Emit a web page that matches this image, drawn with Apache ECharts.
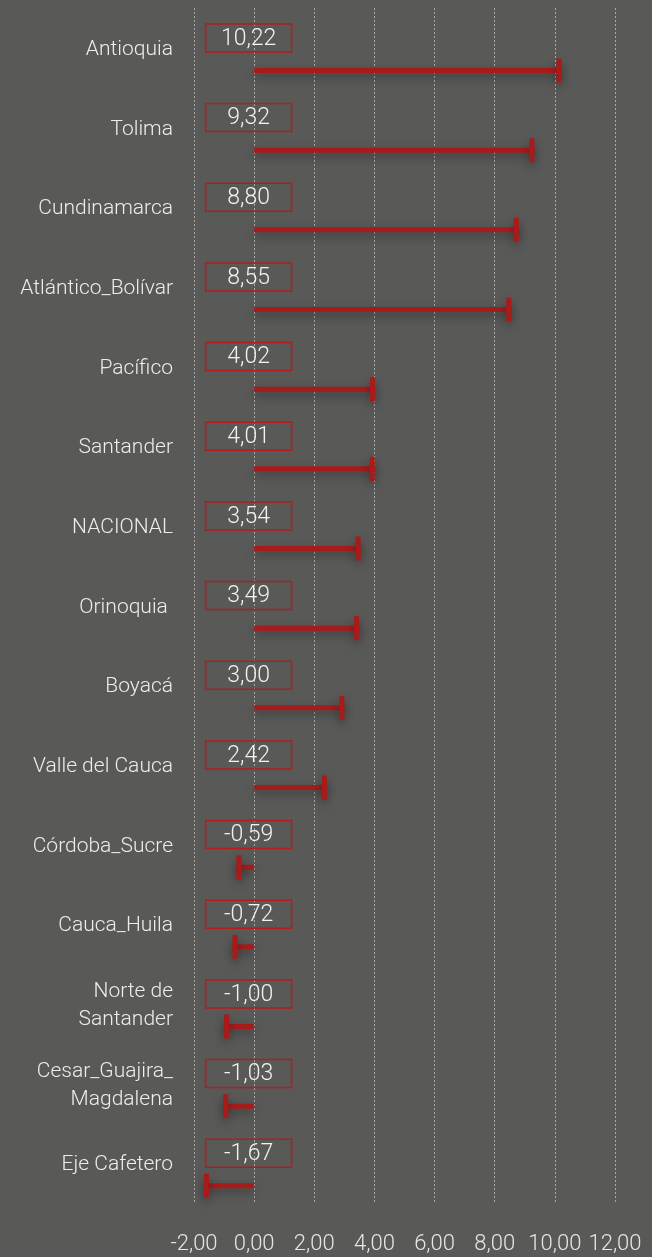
<!DOCTYPE html>
<html><head><meta charset="utf-8">
<script src="https://cdn.jsdelivr.net/npm/echarts@6/dist/echarts.min.js"></script>
<style>html,body{margin:0;padding:0;background:#595958;}#c{width:652px;height:1257px;}</style>
</head><body><div id="c"></div>
<script>
var categories = ["Antioquia","Tolima","Cundinamarca","Atlántico_Bolívar","Pacífico","Santander","NACIONAL","Orinoquia ","Boyacá","Valle del Cauca","Córdoba_Sucre","Cauca_Huila","Norte de\nSantander","Cesar_Guajira_\nMagdalena","Eje Cafetero"];
var values = [10.22,9.32,8.80,8.55,4.02,4.01,3.54,3.49,3.00,2.42,-0.59,-0.72,-1.00,-1.03,-1.67];
var xTicks = {min:-2, max:12, interval:2};

function fmt(v){ return v.toFixed(2).replace('.', ','); }
var RED = '#a81b1b';
function renderItem(params, api){
  var v = api.value(0), ci = api.value(1);
  var p0 = api.coord([0, ci]);
  var p1 = api.coord([v, ci]);
  var band = api.size([0,1])[1];
  var yBar = p0[1] + band*0.285;
  var yBox = p0[1] - band*0.125;
  var x0 = Math.min(p0[0], p1[0]), w = Math.abs(p1[0]-p0[0]);
  var capX = v >= 0 ? p1[0]-5 : p1[0];
  var sh = {shadowBlur:10, shadowColor:'rgba(0,0,0,0.35)', shadowOffsetY:4};
  return {type:'group', children:[
    {type:'rect', shape:{x:x0, y:yBar-2.5, width:w, height:5}, style:Object.assign({fill:RED}, sh)},
    {type:'rect', shape:{x:capX, y:yBar-12, width:5, height:24}, style:Object.assign({fill:RED}, sh)},
    {type:'rect', shape:{x:p0[0]-48.5, y:yBox-14, width:86, height:28}, style:{fill:'rgba(0,0,0,0)', stroke:'#b51d1d', lineWidth:1.5}},
    {type:'text', style:{text:fmt(v), x:p0[0]-5.5, y:yBox+1, align:'center', verticalAlign:'middle', fill:'#f2f2f2', fontSize:23, fontFamily:'Roboto', fontWeight:300}}
  ]};
}
var chart = echarts.init(document.getElementById('c'));
chart.setOption({
  backgroundColor:'#595958',
  animation:false,
  grid:{left:194, right:37, top:8, bottom:54},
  xAxis:{type:'value', min:xTicks.min, max:xTicks.max, interval:xTicks.interval,
    axisLine:{show:false}, axisTick:{show:false},
    splitLine:{show:true, lineStyle:{type:[2,2], color:'#a8a8a8', width:1}},
    axisLabel:{color:'#e6e6e6', fontSize:22, fontFamily:'Roboto', fontWeight:300, margin:30, formatter:function(v){return fmt(v);}}},
  yAxis:{type:'category', data:categories, inverse:true,
    axisLine:{show:false}, axisTick:{show:false}, splitLine:{show:false},
    axisLabel:{margin:21, align:'right',
      formatter:function(s){ return s.split('\n').map(function(l){return '{a|'+l+'}';}).join('\n'); },
      rich:{a:{color:'#ededed', fontSize:21, fontFamily:'Roboto', fontWeight:300, lineHeight:28, padding:[4,0,0,0], align:'right'}}}},
  series:[{type:'custom', renderItem:renderItem, encode:{x:0,y:1},
    data: values.map(function(v,i){return [v,i];})}]
});
</script></body></html>
